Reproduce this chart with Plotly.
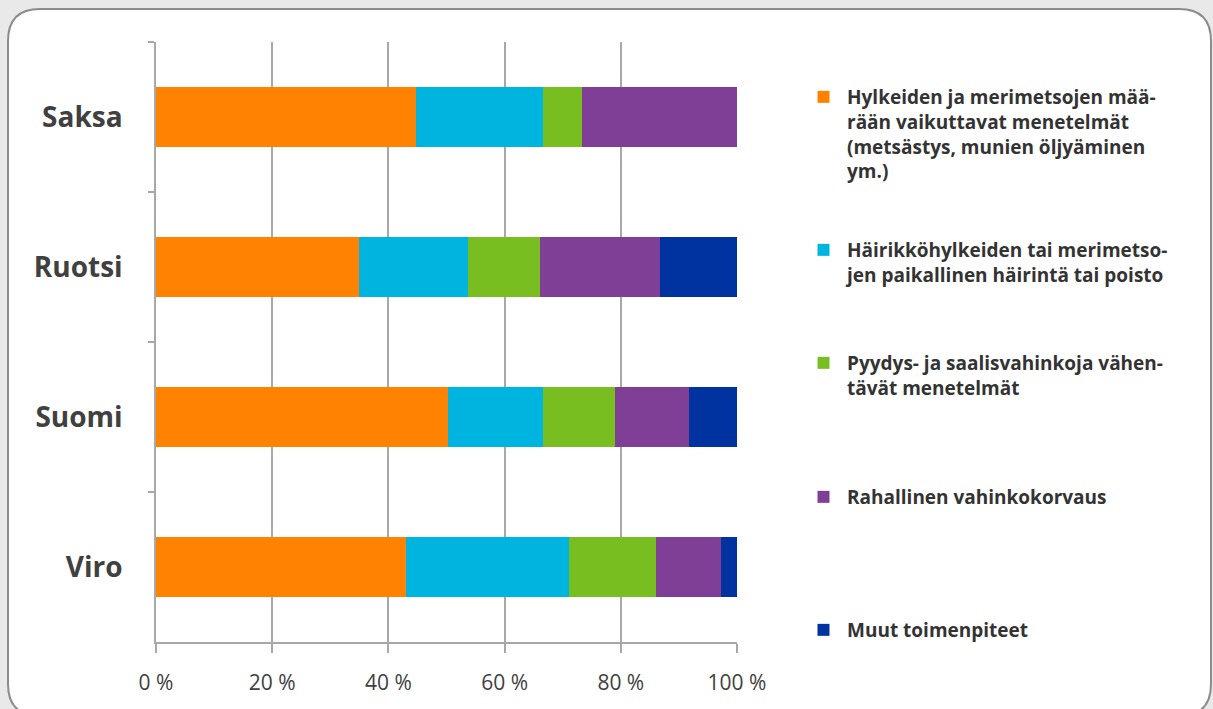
import plotly.graph_objects as go

countries = ["Saksa", "Ruotsi", "Suomi", "Viro"]
series_names = [
    "Hylkeiden ja merimetsojen mää-<br>rään vaikuttavat menetelmät<br>(metsästys, munien öljyäminen<br>ym.)",
    "Häirikköhylkeiden tai merimetso-<br>jen paikallinen häirintä tai poisto",
    "Pyydys- ja saalisvahinkoja vähen-<br>tävät menetelmät",
    "Rahallinen vahinkokorvaus",
    "Muut toimenpiteet",
]
hylkeet_maara = [44.7, 35.0, 50.3, 43.0]
hairinta = [21.9, 18.7, 16.3, 28.0]
pyydys = [6.7, 12.4, 12.4, 15.0]
korvaus = [26.7, 20.6, 12.7, 11.3]
muut = [0.0, 13.3, 8.3, 2.7]
values = [hylkeet_maara, hairinta, pyydys, korvaus, muut]
colors = ["#FF8200", "#00B4E0", "#78BE20", "#7F3F96", "#0033A0"]
x_ticks = [0, 20, 40, 60, 80, 100]
x_ticklabels = ["0 %", "20 %", "40 %", "60 %", "80 %", "100 %"]

W, H = 1213, 709
L, R, T, B = 156, 737, 42, 642
def px(x): return (x - L) / (R - L)
def py(y): return (B - y) / (B - T)

legend_ids = ["legend", "legend2", "legend3", "legend4", "legend5"]
legend_top_px = [78, 231, 344, 478, 611]

fig = go.Figure()
for name, vals, col, lid in zip(series_names, values, colors, legend_ids):
    fig.add_trace(go.Bar(
        y=countries, x=vals, name=name, orientation="h",
        marker=dict(color=col, line=dict(width=0)),
        legend=lid,
    ))

legend_common = dict(
    font=dict(family="Open Sans", size=19, color="#333333", weight="bold"),
    bgcolor="rgba(0,0,0,0)", borderwidth=0, valign="top",
    xanchor="left", yanchor="top", itemwidth=37,
)
layout_legends = {}
for lid, top in zip(legend_ids, legend_top_px):
    layout_legends[lid] = dict(x=px(800), y=py(top), **legend_common)

# rounded frame
x0, y0, x1, y1, r = 8, 9, 1211, 716, 32
path = (f"M {px(x0+r)},{py(y0)} L {px(x1-r)},{py(y0)} Q {px(x1)},{py(y0)} {px(x1)},{py(y0+r)} "
        f"L {px(x1)},{py(y1-r)} Q {px(x1)},{py(y1)} {px(x1-r)},{py(y1)} "
        f"L {px(x0+r)},{py(y1)} Q {px(x0)},{py(y1)} {px(x0)},{py(y1-r)} "
        f"L {px(x0)},{py(y0+r)} Q {px(x0)},{py(y0)} {px(x0+r)},{py(y0)} Z")

fig.update_layout(
    width=W, height=H,
    margin=dict(l=L, r=W - R, t=T, b=H - B, autoexpand=False),
    barmode="stack", bargap=0.6,
    paper_bgcolor="#e9e9e9", plot_bgcolor="rgba(0,0,0,0)",
    showlegend=True,
    shapes=[dict(type="path", path=path, xref="paper", yref="paper",
                 fillcolor="white", line=dict(color="#8c8c8c", width=2), layer="below")],
    xaxis=dict(range=[0, 100], tickvals=x_ticks, ticktext=x_ticklabels,
               showgrid=True, gridcolor="#a8a8a8", gridwidth=1.5,
               showline=True, linecolor="#a8a8a8", linewidth=1.5,
               ticks="outside", ticklen=9, tickcolor="#a8a8a8", tickwidth=1.5,
               ticklabelstandoff=12,
               tickfont=dict(family="Open Sans", size=21, color="#404040"),
               zeroline=False, fixedrange=True),
    yaxis=dict(categoryorder="array", categoryarray=countries, autorange="reversed",
               showline=True, linecolor="#a8a8a8", linewidth=1.5,
               ticks="outside", tickson="boundaries", ticklen=6, tickcolor="#a8a8a8", tickwidth=1.5,
               ticklabelstandoff=26,
               tickfont=dict(family="Open Sans", size=28, color="#404040", weight="bold"),
               showgrid=False, fixedrange=True),
    **layout_legends,
)

fig.write_html("out.html")
